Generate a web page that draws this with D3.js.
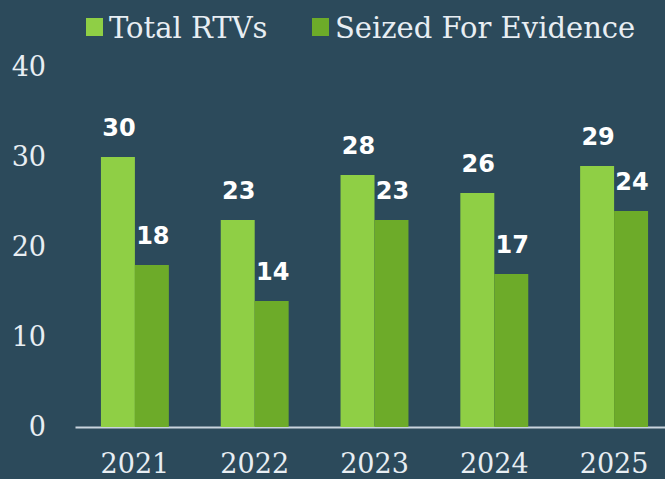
<!DOCTYPE html>
<html>
<head>
<meta charset="utf-8">
<script src="https://cdn.jsdelivr.net/npm/d3@7"></script>
<style>
  body { margin: 0; background: #2c4a5b; }
  svg { display: block; }
</style>
</head>
<body>
<div id="chart"></div>
<script>
// dados
var anos = ["2021", "2022", "2023", "2024", "2025"];
var totalRTVs = [30, 23, 28, 26, 29];
var apreendidos = [18, 14, 23, 17, 24];
var series = ["Total RTVs", "Seized For Evidence"];
var yTicks = [0, 10, 20, 30, 40];

var W = 665, H = 479;
var cores = ["#8fcf45", "#6dab29"];
var serif = "'DejaVu Serif', serif";

var svg = d3.select("#chart")
  .append("svg")
    .attr("width", W)
    .attr("height", H)
    .style("background", "#2c4a5b");

/*
 * escalas
 */
var x0 = d3.scaleBand()
  .domain(anos)
  .range([75, 674])
  .paddingInner(0.433)
  .paddingOuter(0.2165);

var x1 = d3.scaleBand()
  .domain(series)
  .range([0, x0.bandwidth()]);

var y = d3.scaleLinear()
  .domain([0, 40])
  .range([427, 67]);

/*
 * eixos
 */
var eixoY = svg.append("g")
  .attr("transform", "translate(46,0)")
  .call(d3.axisLeft(y).tickValues(yTicks).tickSize(0).tickPadding(0));
eixoY.select(".domain").remove();
eixoY.selectAll("text")
  .style("font-family", serif)
  .style("font-size", "27px")
  .attr("fill", "#e8eef3");

var eixoX = svg.append("g")
  .attr("transform", "translate(0,427)")
  .call(d3.axisBottom(x0).tickSize(0).tickPadding(27));
eixoX.select(".domain")
  .attr("stroke", "#c9d4de")
  .attr("stroke-width", 2);
eixoX.selectAll("text")
  .style("font-family", serif)
  .style("font-size", "27px")
  .attr("fill", "#e8eef3");

/*
 * barras
 */
var dados = anos.map(function(a, i) {
  return [
    {ano: a, serie: series[0], value: totalRTVs[i]},
    {ano: a, serie: series[1], value: apreendidos[i]}
  ];
});

var grupos = svg.append("g").selectAll("g")
  .data(dados)
  .enter()
  .append("g")
    .attr("transform", d => "translate(" + x0(d[0].ano) + ",0)");

grupos.selectAll("rect")
  .data(d => d)
  .enter()
  .append("rect")
    .attr("x", d => x1(d.serie))
    .attr("width", x1.bandwidth())
    .attr("y", d => y(d.value))
    .attr("height", d => y(0) - y(d.value))
    .attr("fill", (d, i) => cores[i]);

grupos.selectAll("text")
  .data(d => d)
  .enter()
  .append("text")
    .attr("x", d => x1(d.serie) + x1.bandwidth() / 2 + 1)
    .attr("y", d => y(d.value) - 21)
    .attr("text-anchor", "middle")
    .style("font-family", "'DejaVu Sans', sans-serif")
    .style("font-weight", "bold")
    .style("font-size", "24px")
    .attr("fill", "#ffffff")
    .text(d => d.value);

/*
 * legenda
 */
var legX = [86, 312];
var leg = svg.append("g").selectAll("g")
  .data(series)
  .enter()
  .append("g")
    .attr("transform", (d, i) => "translate(" + legX[i] + ",0)");

leg.append("rect")
  .attr("x", 0)
  .attr("y", 18)
  .attr("width", 17)
  .attr("height", 18)
  .attr("fill", (d, i) => cores[i]);

leg.append("text")
  .attr("x", 23)
  .attr("y", 38)
  .style("font-family", serif)
  .style("font-size", "29px")
  .attr("fill", "#e8eef3")
  .text(d => d);
</script>
</body>
</html>
